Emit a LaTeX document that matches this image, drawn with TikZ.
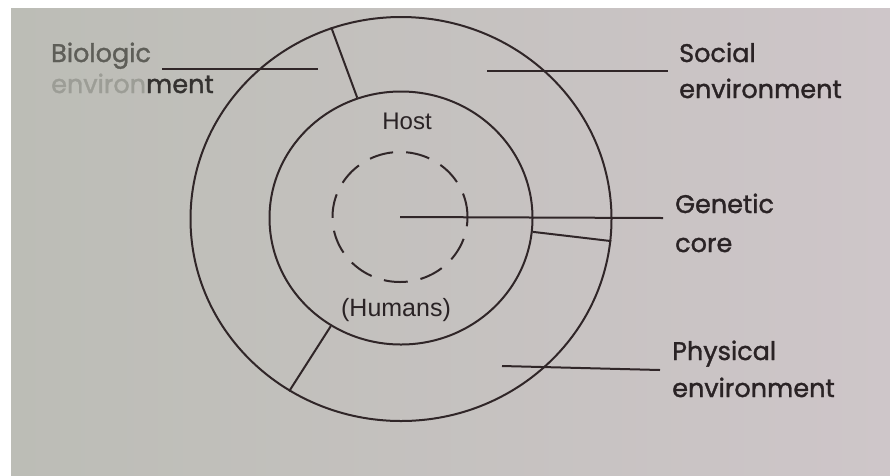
\documentclass[tikz,border=0pt]{standalone}
\usepackage{fontspec}
\setmainfont{Liberation Sans}
\newfontfamily\labelfont[FakeBold=1.3]{Poppins}
\usetikzlibrary{shapes.geometric}
\definecolor{ink}{HTML}{302628}
\definecolor{txt}{HTML}{2A2325}
\definecolor{paperL}{HTML}{BCBDB6}
\definecolor{paperM}{HTML}{D6D0CF}
\definecolor{paperR}{HTML}{CEC6C9}
\definecolor{fadeA}{HTML}{5E5E58}
\definecolor{fadeB}{HTML}{9C9D96}
\definecolor{fadeC}{HTML}{343230}
\begin{document}
\begin{tikzpicture}[x=1pt,y=-1pt,
  ring/.style={ellipse, draw=ink, line width=2pt, inner sep=0pt},
  rule/.style={draw=ink, line width=2pt},
  lbl/.style={anchor=base west, inner sep=0pt, text=txt,
    font=\labelfont\fontsize{25.5}{30}\selectfont},
  hostlbl/.style={anchor=base, inner sep=0pt, text=txt}]
  % paper
  \useasboundingbox (0,0) rectangle (890,475);
  \fill[white] (0,0) rectangle (890,475);
  \shade[left color=paperL, middle color=paperM, right color=paperR] (11,8) rectangle (890,475);

  % concentric rings
  \node[ring, minimum width=421pt, minimum height=404pt] (outer) at (401,219) {};
  \node[ring, minimum width=263pt, minimum height=253pt] (inner) at (401,218) {};
  \node[ring, dash pattern=on 24pt off 13pt, minimum width=135pt, minimum height=130pt] (core) at (400,217) {};

  % dividers of the environment ring
  \draw[rule] (inner.110) -- (outer.110);
  \draw[rule] (inner.237) -- (outer.237);
  \draw[rule] (inner.-6.5) -- (outer.-6.5);

  % host labels
  \node[hostlbl, font=\fontsize{24}{28}\selectfont] (host) at (407,129) {Host};
  \node[hostlbl, font=\fontsize{25}{28}\selectfont] (humans) at (396,316) {(Humans)};

  % side labels
  \node[lbl, text=fadeA] (bio1) at (51,62) {Biologic};
  \node[lbl] (bio2) at (51,93) {\textcolor{fadeB}{environ}\textcolor{fadeC}{ment}};
  \node[lbl] (soc1) at (679,62) {Social};
  \node[lbl] (soc2) at (679,98) {environment};
  \node[lbl] (gen1) at (675,213) {Genetic};
  \node[lbl] (gen2) at (675,252) {core};
  \node[lbl] (phy1) at (672,360) {Physical};
  \node[lbl] (phy2) at (672,397) {environment};

  % leader ends
  \coordinate (bioA) at (162,69);
  \coordinate (bioB) at (318,69);
  \coordinate (socA) at (487,71);
  \coordinate (socB) at (668,71);
  \coordinate (genB) at (663,218);
  \coordinate (phyA) at (502,366);
  \coordinate (phyB) at (660,370);

  % leaders
  \draw[rule] (bioA) -- (bioB);
  \draw[rule] (socA) -- (socB);
  \draw[rule] (core.center) -- (genB);
  \draw[rule] (phyA) -- (phyB);
\end{tikzpicture}
\end{document}
